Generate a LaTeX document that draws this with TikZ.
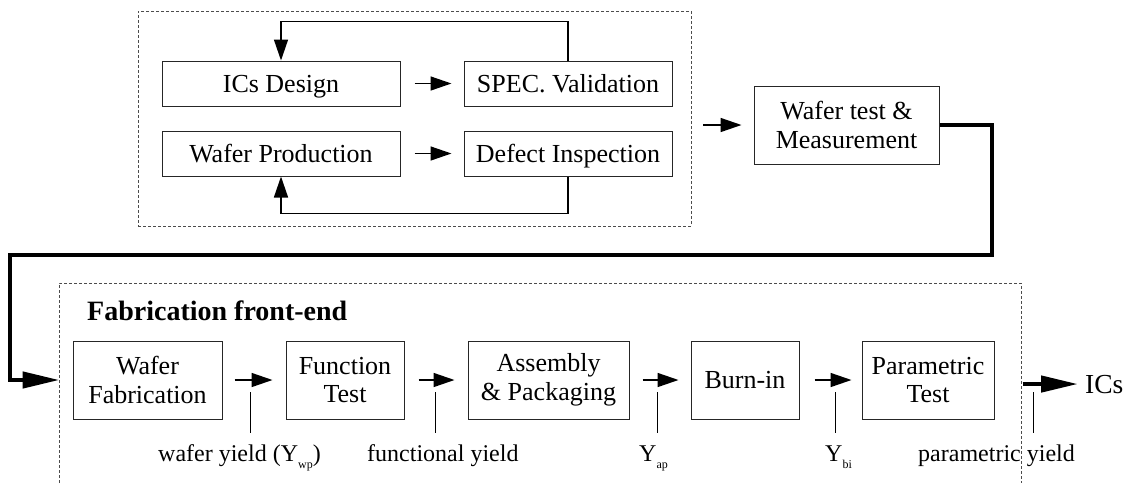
\documentclass[tikz,border=0pt]{standalone}
\usepackage{fontspec}
\setmainfont{Liberation Serif}
\usetikzlibrary{arrows.meta,calc}
\newcommand\ysub[1]{\raisebox{-7pt}{\fontsize{12}{12}\selectfont #1}}
\begin{document}
\begin{tikzpicture}[x=1pt,y=-1pt,
  box/.style={draw=black!85,line width=1pt,minimum height=45pt,inner sep=0pt,
    font=\fontsize{26}{28.5}\selectfont,align=center},
  oneline/.style={text height=19pt,text depth=2pt},
  tallbox/.style={box,minimum height=78pt},
  dbox/.style={draw=black!70,line width=0.8pt,dash pattern=on 3pt off 2pt,inner sep=0pt},
  arr/.style={line width=1.5pt,-{Triangle[length=21pt,width=14pt]}},
  fatarr/.style={line width=4.5pt,-{Triangle[length=37pt,width=16pt]}},
  tick/.style={line width=1pt},
  lab/.style={inner sep=0pt,font=\fontsize{24}{26}\selectfont}
]
\useasboundingbox (0,0) rectangle (1133,483);

% top dashed group
\node[dbox,minimum width=553pt,minimum height=215pt] (topbox) at (414.5,118.5) {};
\node[box,oneline,minimum width=238pt] (icd) at (281,83.5) {ICs Design};
\node[box,oneline,minimum width=208pt] (spec) at (568,83.5) {SPEC. Validation};
\node[box,oneline,minimum width=238pt] (wpr) at (281,153.5) {Wafer Production};
\node[box,oneline,minimum width=208pt] (dins) at (568,153.5) {Defect Inspection};

\draw[arr,shorten <=14pt,shorten >=12pt] (icd) -- (spec);
\draw[arr,shorten <=14pt,shorten >=12pt] (wpr) -- (dins);
\draw[arr] (spec.north) -- ++(0,-39) -| (icd.north);
\draw[arr] (dins.south) -- ++(0,37) -| (wpr.south);

% wafer test
\node[tallbox,minimum width=185pt] (wtm) at (846.5,125) {Wafer test \&\\Measurement};
\draw[arr,shorten <=12pt,shorten >=12pt] (topbox.east |- wtm.west) -- (wtm.west);

% bottom dashed group
\draw[draw=black!70,line width=0.8pt,dash pattern=on 3pt off 2pt]
  (59,483) -- (59,283) -- (1021,283) -- (1021,483);
\node[inner sep=0pt,anchor=base west,font=\fontsize{28}{30}\selectfont\bfseries] (fe) at (87,320) {Fabrication front-end};

\node[tallbox,minimum width=149pt] (wfab) at (147.5,380) {Wafer\\Fabrication};
\node[tallbox,minimum width=118pt] (ftest) at (345,380) {Function\\Test};
\node[tallbox,minimum width=161pt] (asm) at (548.5,380) {Assembly\\\&~Packaging};
\node[tallbox,text height=19pt,text depth=3pt,minimum width=108pt] (burn) at (745,380) {Burn-in};
\node[tallbox,minimum width=132pt] (ptest) at (928,380) {Parametric\\Test};
\node[inner sep=0pt,anchor=base west,font=\fontsize{27.5}{30}\selectfont] (ics) at (1085,393) {ICs};

% thick feed line
\coordinate (t1) at (992,255);
\coordinate (t2) at (10,255);
\draw[fatarr,shorten >=13pt] (wtm.east) -| (t1) -- (t2) |- (wfab.west);

\draw[arr,shorten <=12pt,shorten >=13pt] (wfab) -- (ftest);
\draw[arr,shorten <=14pt,shorten >=13pt] (ftest) -- (asm);
\draw[arr,shorten <=13pt,shorten >=12pt] (asm) -- (burn);
\draw[arr,shorten <=15pt,shorten >=10pt] (burn) -- (ptest);
\draw[fatarr,shorten <=28pt,shorten >=7pt] (ics.west -| ptest.east) -- (ics.west);

% ticks
\foreach \x in {250,435,657,835,1033} \draw[tick] (\x,392) -- (\x,433);

% labels
\node[lab,anchor=base west] (l1) at (158,461) {wafer yield (Y\ysub{wp})};
\node[lab,anchor=base west] (l2) at (367,461) {functional yield};
\node[lab,anchor=base west] (l3) at (639,461) {Y\ysub{ap}};
\node[lab,anchor=base west] (l4) at (825,461) {Y\ysub{bi}};
\node[lab,anchor=base west] (l5) at (918,461) {parametric yield};
\end{tikzpicture}
\end{document}
